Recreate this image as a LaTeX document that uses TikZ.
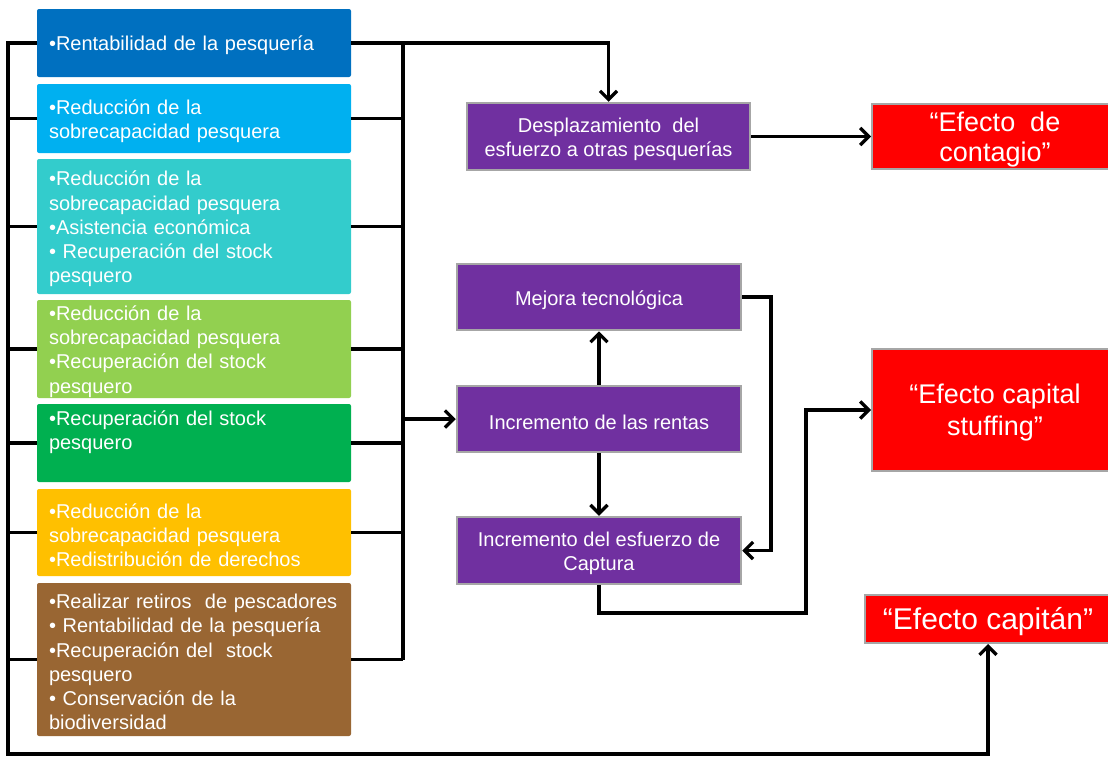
\documentclass[tikz,border=0pt]{standalone}
\usepackage{fontspec}
\setmainfont{Liberation Sans}
\usetikzlibrary{arrows.meta}
\definecolor{cOne}{HTML}{0070C0}
\definecolor{cTwo}{HTML}{00B0F0}
\definecolor{cThree}{HTML}{33CCCC}
\definecolor{cFour}{HTML}{92D050}
\definecolor{cFive}{HTML}{00B050}
\definecolor{cSix}{HTML}{FFC000}
\definecolor{cSeven}{HTML}{996633}
\definecolor{purp}{HTML}{7030A0}
\definecolor{redbox}{HTML}{FF0000}
\definecolor{edge}{HTML}{A6A6A6}
\begin{document}
\begin{tikzpicture}[x=1pt,y=-1pt,
  conn/.style={line width=3.3pt, black},
  arr/.style={conn, -{Straight Barb[length=8.5pt,width=17pt]}},
  leftbox/.style={fill=#1, minimum width=314pt, inner sep=0pt,
    rounded corners=2pt},
  lefttext/.style={anchor=west, xshift=12pt, yshift=-2.5pt,
    text width=290pt, inner sep=0pt, align=left, text=white,
    font=\fontsize{20}{24.2}\selectfont},
  purpbox/.style={fill=purp, draw=edge, line width=2.5pt, inner sep=0pt},
  purptext/.style={yshift=-3pt, inner sep=0pt, align=center, text=white,
    font=\fontsize{20}{24.5}\selectfont},
  effbox/.style={fill=redbox, draw=edge, line width=2pt, inner sep=0pt},
  efftext/.style={yshift=-3pt, inner sep=0pt, align=center, text=white}
]
\useasboundingbox (0,0) rectangle (1108,756);

% measures boxes on the left
\node[leftbox=cOne, minimum height=68pt] (b1) at (194,43) {};
\node[lefttext] (t1) at (b1.west) {•Rentabilidad de la pesquería};
\node[leftbox=cTwo, minimum height=69pt] (b2) at (194,118.5) {};
\node[lefttext] (t2) at (b2.west) {•Reducción de la\\sobrecapacidad pesquera};
\node[leftbox=cThree, minimum height=135pt] (b3) at (194,226.5) {};
\node[lefttext] (t3) at (b3.west)
  {•Reducción de la\\sobrecapacidad pesquera\\•Asistencia económica\\• Recuperación del stock\\pesquero};
\node[leftbox=cFour, minimum height=98pt] (b4) at (194,349) {};
\node[lefttext] (t4) at (b4.west)
  {•Reducción de la\\sobrecapacidad pesquera\\•Recuperación del stock\\pesquero};
\node[leftbox=cFive, minimum height=78pt] (b5) at (194,443) {};
\node[lefttext] (t5) at (b5.west) {•Recuperación del stock\\pesquero\\\strut};
\node[leftbox=cSix, minimum height=87pt] (b6) at (194,532.5) {};
\node[lefttext] (t6) at (b6.west)
  {•Reducción de la\\sobrecapacidad pesquera\\•Redistribución de derechos};
\node[leftbox=cSeven, minimum height=153pt] (b7) at (194,659.5) {};
\node[lefttext] (t7) at (b7.west)
  {•Realizar retiros~ de pescadores\\• Rentabilidad de la pesquería\\•Recuperación del~ stock\\pesquero\\• Conservación de la\\biodiversidad};

% consequences
\node[purpbox, minimum width=283pt, minimum height=67pt] (despl) at (608.5,136.5) {};
\node[purptext] (tdespl) at (despl) {Desplazamiento~ del\\esfuerzo a otras pesquerías};
\node[purpbox, minimum width=284pt, minimum height=66pt] (mejora) at (599,297) {};
\node[purptext] (tmejora) at (mejora) {Mejora tecnológica};
\node[purpbox, minimum width=284pt, minimum height=66pt] (rentas) at (599,419) {};
\node[purptext] (trentas) at (rentas) {Incremento de las rentas};
\node[purpbox, minimum width=284pt, minimum height=67pt] (captura) at (599,550.5) {};
\node[purptext] (tcaptura) at (captura) {Incremento del esfuerzo de\\Captura};

% effects
\node[effbox, minimum width=246pt, minimum height=65pt] (contagio) at (995,136.5) {};
\node[efftext, font=\fontsize{27}{30.5}\selectfont] (tcontagio) at (contagio)
  {“Efecto~ de\\contagio”};
\node[effbox, minimum width=246pt, minimum height=122pt] (stuffing) at (995,410) {};
\node[efftext, font=\fontsize{27}{32}\selectfont] (tstuffing) at (stuffing)
  {“Efecto capital\\stuffing”};
\node[effbox, minimum width=246pt, minimum height=48pt] (capitan) at (988,619) {};
\node[efftext, font=\fontsize{30}{34}\selectfont] (tcapitan) at (capitan)
  {“Efecto capitán”};

% bus lines
\coordinate (lbot) at (8,754);
\coordinate (rtop) at (403,43);
\coordinate (rbot) at (403,659.5);
\coordinate (mturn) at (771,297);
\coordinate (cturn) at (806,613);

\draw[arr] (b1.west) -| (lbot) -| (capitan.south);
\foreach \b in {b2,b3,b4,b5,b6,b7}
  \draw[conn] (\b.west) -- (\b.west -| lbot);

\draw[arr] (b1.east) -| (despl.north);
\draw[conn] (rtop) -- (rbot);
\foreach \b in {b2,b3,b4,b5,b6,b7}
  \draw[conn] (\b.east) -- (\b.east -| rtop);
\draw[arr] (rentas.west -| rtop) -- (rentas.west);

\draw[arr] (despl.east) -- (contagio.west);
\draw[arr] (rentas.north) -- (mejora.south);
\draw[arr] (rentas.south) -- (captura.north);
\draw[arr] (mejora.east) -- (mturn) |- (captura.east);
\draw[arr] (captura.south) |- (cturn) |- (stuffing.west);
\end{tikzpicture}
\end{document}
